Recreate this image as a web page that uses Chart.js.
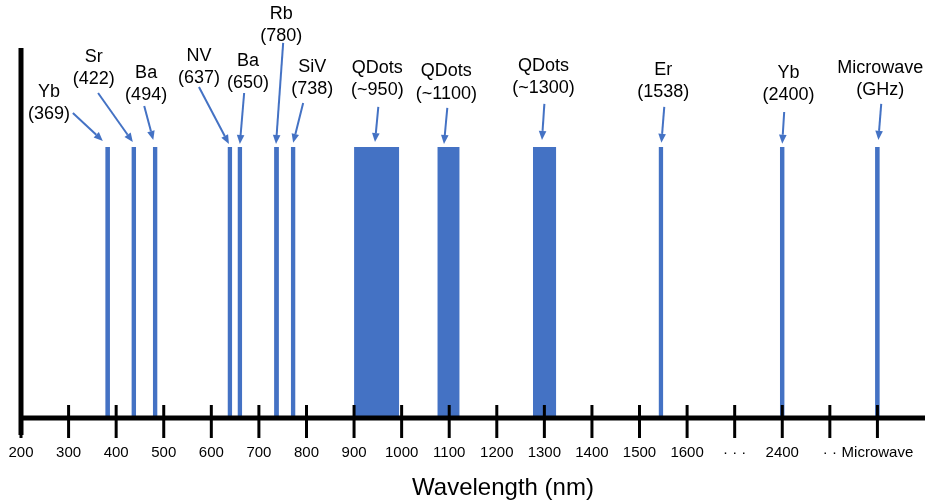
<!DOCTYPE html>
<html>
<head>
<meta charset="utf-8">
<script src="https://cdn.jsdelivr.net/npm/chart.js@4.4.0/dist/chart.umd.min.js"></script>
<style>
  html, body { margin: 0; padding: 0; background: #ffffff; }
  #wrap { width: 925px; height: 504px; }
</style>
</head>
<body>
<div id="wrap"><canvas id="chart"></canvas></div>
<script>
// Axis is broken: 200..1600 nm linear, then "...", 2400, "..", Microwave (axis units, 100 per tick)
const tickLabels = ['200', '300', '400', '500', '600', '700', '800', '900', '1000', '1100',
    '1200', '1300', '1400', '1500', '1600', '\u00b7 \u00b7 \u00b7', '2400', '\u00b7 \u00b7', 'Microwave'];

// bar spans in axis units
const barNames = ['Yb', 'Sr', 'Ba', 'NV', 'Ba', 'Rb', 'SiV', 'QDots', 'QDots', 'QDots', 'Er', 'Yb', 'Microwave'];
const barLabels = ['(369)', '(422)', '(494)', '(637)', '(650)', '(780)', '(738)', '(~950)', '(~1100)', '(~1300)', '(1538)', '(2400)', '(GHz)'];
const barStart = [377, 432, 477, 634, 655, 732, 767, 900, 1075, 1276, 1540, 1795, 1995];
const barEnd   = [387, 442, 487, 644, 665, 742, 777, 995, 1122, 1325, 1550, 1805, 2005];
const barHeight = 1;

// annotation text anchors (axis units, first line centre)
const labelX = [259, 353, 463, 574, 677, 747, 812, 949, 1094, 1298, 1550, 1813, 2006];
const labelY = [1.203, 1.332, 1.273, 1.336, 1.317, 1.491, 1.295, 1.292, 1.280, 1.299, 1.284, 1.273, 1.292];

// arrows: from below the label to the top of the bar
const arrowFromX = [309, 362, 459, 574, 669, 751, 793, 951, 1096, 1300, 1552, 1804, 2008];
const arrowFromY = [1.125, 1.199, 1.151, 1.221, 1.199, 1.384, 1.162, 1.148, 1.144, 1.159, 1.148, 1.129, 1.159];
const arrowToX   = [372, 435, 478, 637, 660, 736, 772, 944, 1089, 1295, 1546, 1800, 2002];
const arrowToY   = [1.022, 1.018, 1.026, 1.011, 1.011, 1.011, 1.015, 1.018, 1.011, 1.026, 1.015, 1.012, 1.026];

const BLUE = '#4472C4';
const FONT = '"Liberation Sans", Arial, sans-serif';

// each bar is a filled line segment down to the origin
const datasets = barStart.map((s, i) => ({
    label: barNames[i] + ' ' + barLabels[i],
    data: [{ x: s, y: barHeight }, { x: barEnd[i], y: barHeight }],
    backgroundColor: BLUE,
    borderWidth: 0,
    pointRadius: 0,
    fill: 'origin',
    tension: 0
}));

const annotatePlugin = {
    id: 'annotate',
    afterDatasetsDraw(chart) {
        const ctx = chart.ctx;
        const xs = chart.scales.x;
        const ys = chart.scales.y;
        const area = chart.chartArea;
        const base = ys.getPixelForValue(0);

        ctx.save();
        // axes
        ctx.strokeStyle = '#000';
        ctx.lineWidth = 5;
        ctx.beginPath();
        ctx.moveTo(area.left, area.top);
        ctx.lineTo(area.left, base + 17);
        ctx.stroke();
        ctx.beginPath();
        ctx.moveTo(area.left, base);
        ctx.lineTo(area.right, base);
        ctx.stroke();

        // tick marks crossing the axis
        ctx.lineWidth = 3;
        xs.ticks.forEach(t => {
            const px = xs.getPixelForValue(t.value);
            ctx.beginPath();
            ctx.moveTo(px, base - 13);
            ctx.lineTo(px, base + 20);
            ctx.stroke();
        });

        // arrows
        ctx.strokeStyle = BLUE;
        ctx.fillStyle = BLUE;
        ctx.lineWidth = 2;
        arrowFromX.forEach((fx, i) => {
            const x1 = xs.getPixelForValue(fx), y1 = ys.getPixelForValue(arrowFromY[i]);
            const x2 = xs.getPixelForValue(arrowToX[i]), y2 = ys.getPixelForValue(arrowToY[i]);
            const ang = Math.atan2(y2 - y1, x2 - x1);
            const head = 9, half = 3.8;
            const bx = x2 - head * Math.cos(ang), by = y2 - head * Math.sin(ang);
            ctx.beginPath();
            ctx.moveTo(x1, y1);
            ctx.lineTo(bx, by);
            ctx.stroke();
            ctx.beginPath();
            ctx.moveTo(x2, y2);
            ctx.lineTo(bx + half * Math.sin(ang), by - half * Math.cos(ang));
            ctx.lineTo(bx - half * Math.sin(ang), by + half * Math.cos(ang));
            ctx.closePath();
            ctx.fill();
        });

        // labels
        ctx.fillStyle = '#000';
        ctx.font = '18px ' + FONT;
        ctx.textAlign = 'center';
        ctx.textBaseline = 'middle';
        barNames.forEach((name, i) => {
            const px = xs.getPixelForValue(labelX[i]);
            const py = ys.getPixelForValue(labelY[i]);
            ctx.fillText(name, px, py);
            ctx.fillText(barLabels[i], px, py + 22.5);
        });

        // axis title
        ctx.font = '24px ' + FONT;
        ctx.fillText('Wavelength (nm)', xs.getPixelForValue(1213), 488);
        ctx.restore();
    }
};

new Chart(document.getElementById('chart'), {
    type: 'line',
    data: { datasets: datasets },
    options: {
        responsive: true,
        maintainAspectRatio: false,
        animation: false,
        layout: { padding: { left: 21, top: 48, right: 0, bottom: 43 } },
        plugins: {
            legend: { display: false },
            tooltip: { enabled: false }
        },
        scales: {
            x: {
                type: 'linear',
                min: 200,
                max: 2100,
                afterBuildTicks: (scale) => {
                    scale.ticks = scale.ticks.filter(t => t.value <= 2000);
                },
                afterFit: (scale) => {
                    scale.height = 43;
                    scale.paddingLeft = 0;
                    scale.paddingRight = 0;
                    scale.paddingTop = 0;
                    scale.paddingBottom = 0;
                },
                grid: { display: false, drawTicks: false },
                border: { display: false },
                ticks: {
                    stepSize: 100,
                    padding: 26,
                    maxRotation: 0,
                    autoSkip: false,
                    color: '#000',
                    font: { family: FONT, size: 15 },
                    callback: (v) => tickLabels[Math.round((v - 200) / 100)]
                }
            },
            y: {
                display: false,
                min: 0,
                max: 1.365
            }
        }
    },
    plugins: [annotatePlugin]
});
</script>
</body>
</html>
